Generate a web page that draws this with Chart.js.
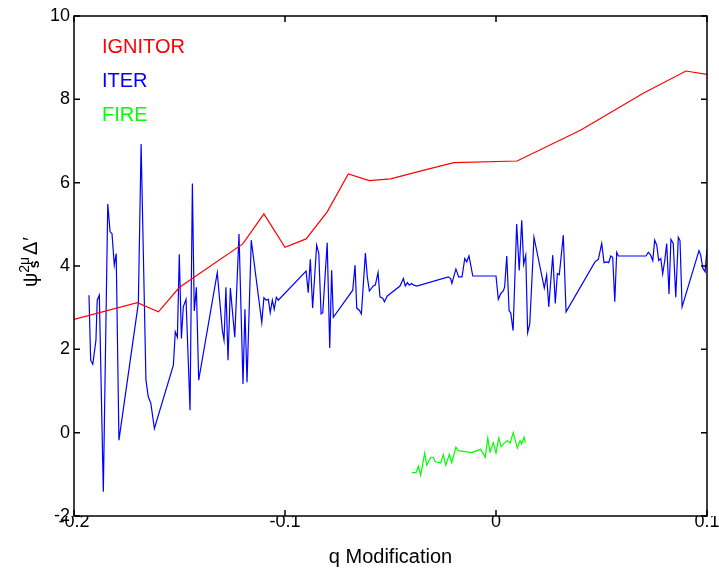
<!DOCTYPE html>
<html>
<head>
<meta charset="utf-8">
<script src="https://cdn.jsdelivr.net/npm/chart.js@4/dist/chart.umd.min.js"></script>
<style>
  html, body { margin: 0; padding: 0; background: #fff; }
</style>
</head>
<body>
<canvas id="chart" width="719" height="571"></canvas>
<script>
// values
const xTicks = [-0.2, -0.1, 0, 0.1];
const yTicks = [-2, 0, 2, 4, 6, 8, 10];

const ignitorX = [-0.20, -0.17, -0.16, -0.15, -0.12, -0.11, -0.10, -0.09, -0.08, -0.07, -0.06, -0.05, -0.035, -0.02, 0.01, 0.04, 0.07, 0.09, 0.10];
const ignitorY = [2.72, 3.12, 2.90, 3.49, 4.53, 5.25, 4.45, 4.65, 5.30, 6.21, 6.05, 6.09, 6.29, 6.48, 6.52, 7.26, 8.15, 8.68, 8.60];

const iterX = [-0.1929, -0.1921, -0.1911, -0.1896, -0.1890, -0.1880, -0.1861, -0.1840, -0.1829, -0.1820,
  -0.1809, -0.1800, -0.1787, -0.1695, -0.1682, -0.1659, -0.1648, -0.1636, -0.1619, -0.1529,
  -0.1520, -0.1510, -0.1501, -0.1491, -0.1482, -0.1469, -0.1450, -0.1439, -0.1430, -0.1420,
  -0.1409, -0.1321, -0.1297, -0.1289, -0.1280, -0.1270, -0.1259, -0.1238, -0.1218, -0.1199,
  -0.1190, -0.1180, -0.1160, -0.1110, -0.1100, -0.1090, -0.1079, -0.1070, -0.1060, -0.1051,
  -0.1041, -0.1032, -0.0900, -0.0890, -0.0880, -0.0869, -0.0850, -0.0840, -0.0829, -0.0821,
  -0.0800, -0.0788, -0.0779, -0.0771, -0.0679, -0.0668, -0.0660, -0.0648, -0.0638, -0.0619,
  -0.0610, -0.0600, -0.0582, -0.0572, -0.0559, -0.0550, -0.0537, -0.0529, -0.0515, -0.0455,
  -0.0439, -0.0430, -0.0420, -0.0411, -0.0400, -0.0389, -0.0376, -0.0226, -0.0215, -0.0209,
  -0.0190, -0.0177, -0.0161, -0.0148, -0.0139, -0.0128, -0.0110, 0.0000, 0.0011, 0.0022,
  0.0035, 0.0041, 0.0051, 0.0062, 0.0070, 0.0081, 0.0098, 0.0110, 0.0122, 0.0131,
  0.0141, 0.0150, 0.0160, 0.0180, 0.0229, 0.0240, 0.0250, 0.0269, 0.0281, 0.0291,
  0.0300, 0.0319, 0.0332, 0.0469, 0.0485, 0.0501, 0.0512, 0.0525, 0.0534, 0.0544,
  0.0553, 0.0563, 0.0572, 0.0580, 0.0711, 0.0722, 0.0733, 0.0743, 0.0752, 0.0762,
  0.0771, 0.0781, 0.0790, 0.0800, 0.0809, 0.0820, 0.0829, 0.0840, 0.0852, 0.0864,
  0.0872, 0.0882, 0.0962, 0.0970, 0.0980, 0.0991, 0.1000];
const iterY = [3.30, 1.74, 1.64, 2.22, 3.18, 3.30, -1.42, 5.49, 4.82, 4.78,
  4.02, 4.30, -0.18, 3.11, 6.93, 1.26, 0.86, 0.71, 0.10, 1.62,
  2.42, 2.29, 4.28, 2.26, 3.02, 3.20, 0.54, 5.98, 2.92, 3.49,
  1.26, 3.84, 2.46, 2.22, 3.49, 1.74, 3.47, 2.29, 4.77, 1.17,
  2.96, 1.21, 4.62, 2.64, 3.24, 3.18, 3.20, 2.88, 3.18, 2.96,
  3.25, 3.18, 3.88, 3.36, 4.16, 2.99, 4.50, 4.31, 2.85, 2.88,
  4.56, 2.03, 3.90, 2.77, 3.42, 4.02, 2.99, 2.94, 2.85, 4.31,
  3.74, 3.40, 3.52, 3.54, 3.84, 3.26, 3.23, 3.14, 3.28, 3.52,
  3.70, 3.52, 3.60, 3.54, 3.58, 3.54, 3.52, 3.74, 3.70, 3.58,
  3.93, 3.74, 3.74, 4.18, 4.10, 4.24, 3.76, 3.76, 3.20, 3.33,
  3.41, 3.50, 4.24, 2.93, 2.87, 2.45, 5.01, 3.89, 5.10, 4.04,
  4.26, 2.40, 2.61, 4.69, 3.47, 3.78, 3.02, 4.26, 3.10, 3.82,
  3.79, 4.74, 2.90, 4.10, 4.16, 4.54, 4.08, 4.10, 4.08, 4.24,
  4.21, 3.14, 4.33, 4.24, 4.24, 4.33, 4.26, 4.13, 4.62, 4.50,
  4.13, 4.18, 3.81, 4.14, 4.54, 3.33, 4.64, 4.54, 3.25, 4.69,
  4.61, 3.02, 4.37, 4.26, 3.95, 3.86, 4.40];

const fireX = [-0.0398, -0.0379, -0.0368, -0.0357, -0.0338, -0.0328, -0.0309, -0.0297, -0.0288, -0.0262,
  -0.0250, -0.0238, -0.0221, -0.0210, -0.0190, -0.0179, -0.0115, -0.0073, -0.0051, -0.0039,
  -0.0028, -0.0013, 0.0000, 0.0013, 0.0024, 0.0039, 0.0054, 0.0066, 0.0082, 0.0101,
  0.0114, 0.0122, 0.0133, 0.0139];
const fireY = [-0.96, -0.96, -0.80, -1.02, -0.49, -0.78, -0.59, -0.59, -0.70, -0.73,
  -0.53, -0.78, -0.52, -0.72, -0.35, -0.43, -0.48, -0.40, -0.59, -0.13,
  -0.46, -0.24, -0.49, -0.13, -0.34, -0.25, -0.19, -0.25, 0.00, -0.37,
  -0.19, -0.27, -0.11, -0.24];

const seriesNames = ['IGNITOR', 'ITER', 'FIRE'];
const seriesColors = ['#ff0000', '#0000ff', '#00ff00'];

const FONT = '"Liberation Sans", Arial, Helvetica, sans-serif';
const pts = (xs, ys) => xs.map((x, i) => ({ x, y: ys[i] }));

// black box, inward ticks, text legend and the y label with sub/superscripts
const framePlugin = {
  id: 'frame',
  afterDraw(chart) {
    const { ctx, chartArea: a, scales: { x, y } } = chart;
    const tl = 6;
    ctx.save();
    ctx.strokeStyle = '#000';
    ctx.lineWidth = 1.5;
    ctx.strokeRect(a.left, a.top, a.right - a.left, a.bottom - a.top);
    ctx.beginPath();
    xTicks.forEach(v => {
      const p = x.getPixelForValue(v);
      ctx.moveTo(p, a.bottom); ctx.lineTo(p, a.bottom - tl);
      ctx.moveTo(p, a.top); ctx.lineTo(p, a.top + tl);
    });
    yTicks.forEach(v => {
      const p = y.getPixelForValue(v);
      ctx.moveTo(a.left, p); ctx.lineTo(a.left + tl, p);
      ctx.moveTo(a.right, p); ctx.lineTo(a.right - tl, p);
    });
    ctx.stroke();

    ctx.font = '20px ' + FONT;
    ctx.textBaseline = 'middle';
    ctx.textAlign = 'left';
    [47.5, 81.5, 115.5].forEach((ly, i) => {
      ctx.fillStyle = seriesColors[i];
      ctx.fillText(seriesNames[i], a.left + 28, ly);
    });

    // psi_s^{2mu} Delta'
    ctx.fillStyle = '#000';
    ctx.textBaseline = 'alphabetic';
    ctx.translate(37, (a.top + a.bottom) / 2 - 4);
    ctx.rotate(-Math.PI / 2);
    const big = '20px ' + FONT, small = '14px ' + FONT, smallB = 'bold 14px ' + FONT;
    ctx.font = big;
    const wPsi = ctx.measureText('\u03c8').width;
    const wDelta = ctx.measureText('\u0394').width;
    const wPrime = ctx.measureText('\u2032').width;
    ctx.font = small;
    const w2 = ctx.measureText('2').width, wSup = ctx.measureText('2\u03bc').width;
    const total = wPsi + wSup + 2 + wDelta + 1 + wPrime;
    let cx = -total / 2;
    ctx.font = big; ctx.fillText('\u03c8', cx, 0);
    cx += wPsi;
    ctx.font = small; ctx.fillText('2\u03bc', cx, -8);
    ctx.font = smallB; ctx.fillText('s', cx + w2 * 0.6, 2);
    cx += wSup + 2;
    ctx.font = big; ctx.fillText('\u0394', cx, 0);
    cx += wDelta + 1;
    ctx.fillText('\u2032', cx, 0);
    ctx.restore();
  }
};

new Chart(document.getElementById('chart'), {
  type: 'scatter',
  data: {
    datasets: [
      { label: seriesNames[0], data: pts(ignitorX, ignitorY), borderColor: seriesColors[0] },
      { label: seriesNames[1], data: pts(iterX, iterY), borderColor: seriesColors[1] },
      { label: seriesNames[2], data: pts(fireX, fireY), borderColor: seriesColors[2] }
    ].map(d => Object.assign(d, { showLine: true, pointRadius: 0, borderWidth: 1.2, tension: 0, fill: false }))
  },
  options: {
    responsive: false,
    animation: false,
    layout: { padding: { top: 16, right: 12, left: 0, bottom: 0 } },
    plugins: { legend: { display: false }, tooltip: { enabled: false } },
    scales: {
      x: {
        type: 'linear', min: -0.2, max: 0.1,
        grid: { display: false, drawTicks: false },
        border: { display: false },
        afterBuildTicks: s => { s.ticks = xTicks.map(v => ({ value: v })); },
        afterFit: s => { s.height = 55; s.paddingLeft = 0; s.paddingRight = 0; },
        ticks: {
          color: '#000', padding: -5, maxRotation: 0, autoSkip: false,
          font: { family: FONT, size: 18 },
          callback: v => String(v)
        },
        title: {
          display: true, text: 'q Modification', color: '#000',
          font: { family: FONT, size: 20 }, padding: { top: 0, bottom: 2 }
        }
      },
      y: {
        type: 'linear', min: -2, max: 10,
        grid: { display: false, drawTicks: false },
        border: { display: false },
        afterBuildTicks: s => { s.ticks = yTicks.map(v => ({ value: v })); },
        afterFit: s => { s.width = 74; s.paddingTop = 0; s.paddingBottom = 0; },
        ticks: {
          color: '#000', padding: 4, autoSkip: false,
          font: { family: FONT, size: 18 },
          callback: v => String(v)
        }
      }
    }
  },
  plugins: [framePlugin]
});
</script>
</body>
</html>
